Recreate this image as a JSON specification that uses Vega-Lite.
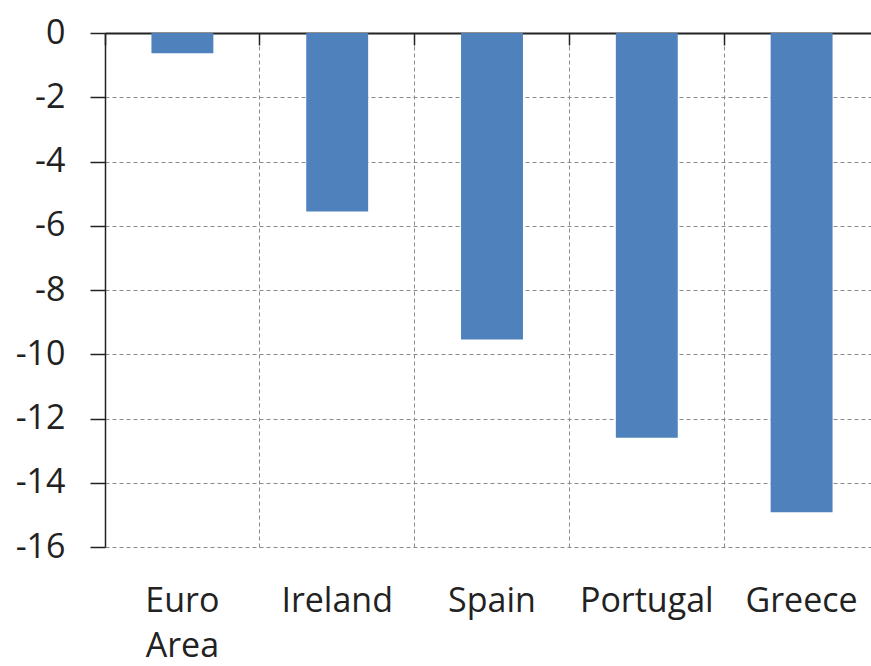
{
  "$schema": "https://vega.github.io/schema/vega-lite/v6.json",
  "width": 774,
  "height": 514,
  "autosize": {"type": "none"},
  "padding": {"left": 105, "top": 33, "right": 0, "bottom": 119},
  "background": "white",
  "config": {
    "view": {"stroke": null},
    "font": "Open Sans",
    "axis": {
      "labelFont": "Open Sans",
      "labelFontSize": 34,
      "labelColor": "#222222",
      "gridColor": "#8a8a8a",
      "gridDash": [4, 3],
      "gridWidth": 1,
      "title": null
    }
  },
  "data": {
    "values": [
      {"country": "Euro Area", "value": -0.63},
      {"country": "Ireland", "value": -5.56},
      {"country": "Spain", "value": -9.54},
      {"country": "Portugal", "value": -12.6},
      {"country": "Greece", "value": -14.92}
    ]
  },
  "resolve": {"axis": {"x": "independent"}},
  "layer": [
    {
      "mark": {"type": "bar", "color": "#4F81BD", "width": {"band": 0.4}},
      "encoding": {
        "x": {
          "field": "country",
          "type": "nominal",
          "sort": null,
          "scale": {"paddingInner": 0, "paddingOuter": 0},
          "axis": {
            "orient": "top",
            "bandPosition": 0,
            "labels": false,
            "grid": true,
            "domain": true,
            "domainColor": "#222222",
            "domainWidth": 2,
            "ticks": true,
            "tickSize": -12,
            "tickColor": "#222222",
            "tickWidth": 1.5
          }
        },
        "y": {
          "field": "value",
          "type": "quantitative",
          "scale": {"domain": [-16, 0], "nice": false, "zero": false},
          "axis": {
            "values": [-16, -14, -12, -10, -8, -6, -4, -2, 0],
            "labelExpr": "replace(datum.label, '\u2212', '-')",
            "grid": true,
            "domain": true,
            "domainColor": "#222222",
            "domainWidth": 1.5,
            "ticks": true,
            "tickSize": 15,
            "tickColor": "#222222",
            "tickWidth": 1.5,
            "labelPadding": 25
          }
        }
      }
    },
    {
      "mark": {"type": "bar", "opacity": 0, "width": {"band": 0.4}},
      "encoding": {
        "x": {
          "field": "country",
          "type": "nominal",
          "sort": null,
          "axis": {
            "orient": "bottom",
            "labelAngle": 0,
            "grid": false,
            "domain": false,
            "ticks": false,
            "labelPadding": 37,
            "labelLineHeight": 45,
            "labelBaseline": "top",
            "labelExpr": "datum.label == 'Euro Area' ? ['Euro', 'Area'] : datum.label"
          }
        },
        "y": {"field": "value", "type": "quantitative"}
      }
    }
  ]
}
